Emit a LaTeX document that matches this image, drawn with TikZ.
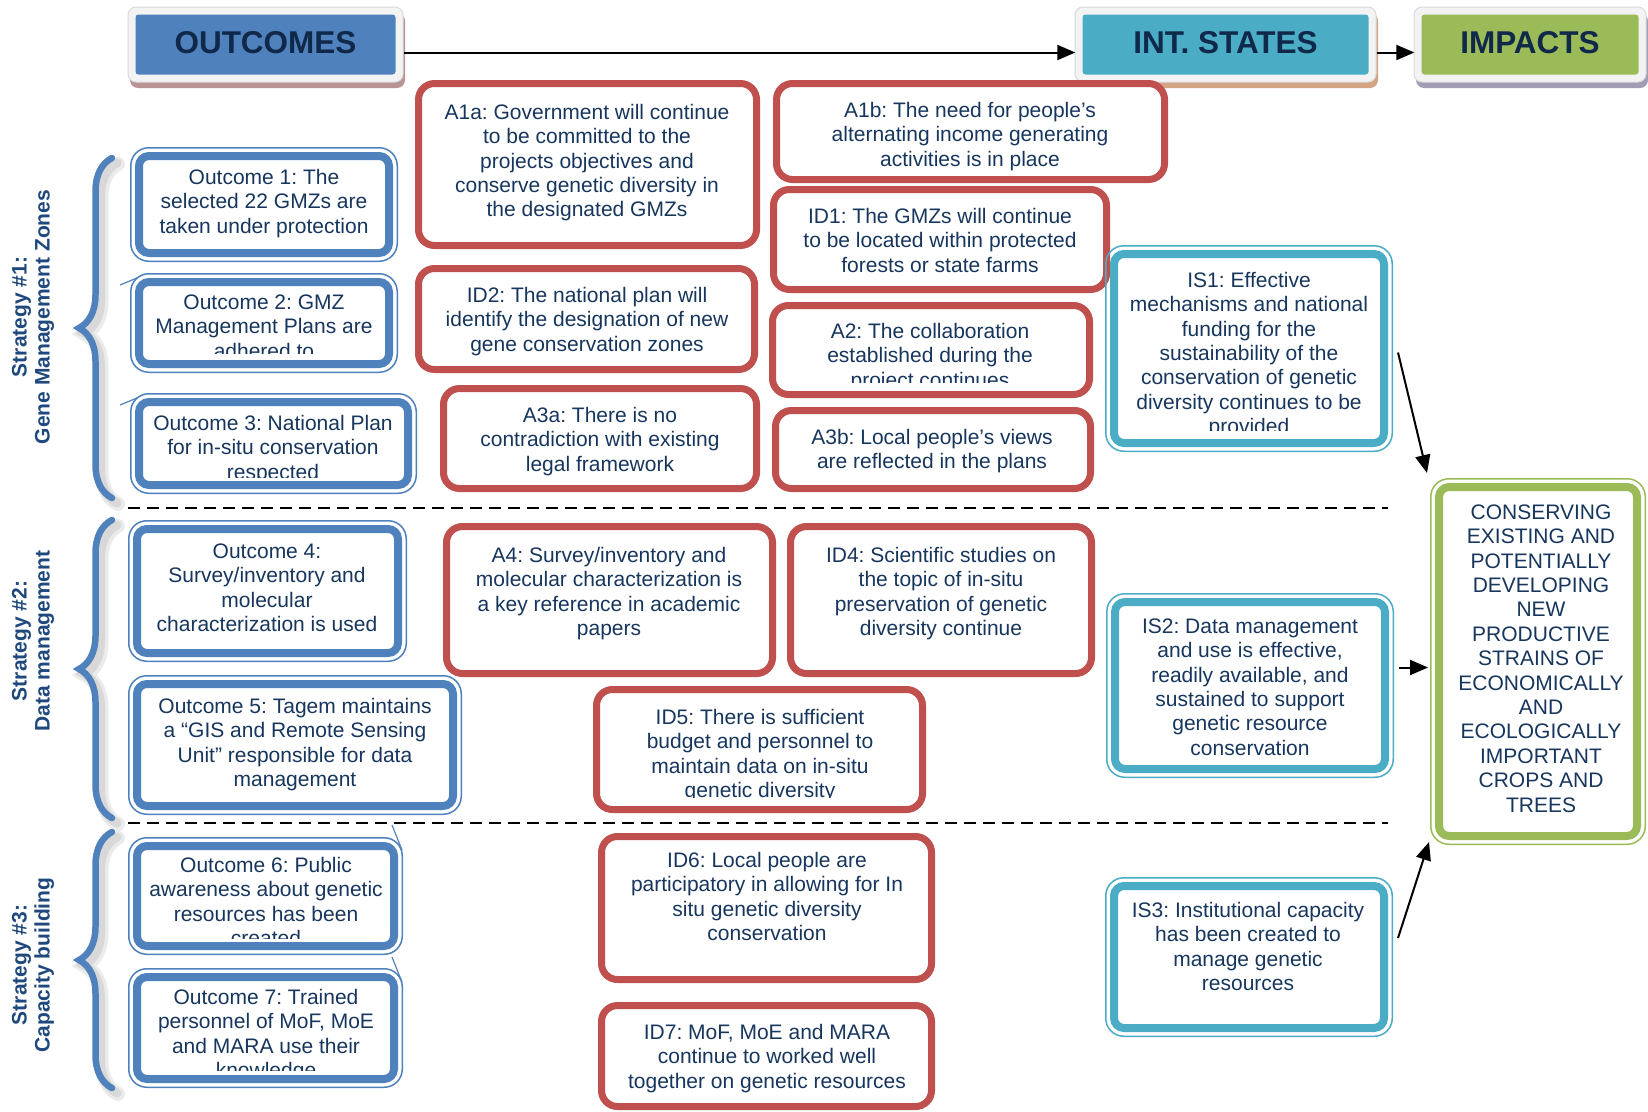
\documentclass[tikz,border=0pt]{standalone}
\usepackage{fontspec}
\setmainfont{Liberation Sans}
\usetikzlibrary{arrows.meta,decorations.pathreplacing}

\definecolor{obl}{HTML}{4F81BD}
\definecolor{ocy}{HTML}{4BACC6}
\definecolor{ogr}{HTML}{9BBB59}
\definecolor{ord}{HTML}{C0504D}
\definecolor{txtc}{HTML}{17365D}
\definecolor{hdrtxt}{HTML}{10284A}
\definecolor{stratc}{HTML}{1F497D}
\definecolor{shO}{HTML}{B99494}
\definecolor{shI}{HTML}{D3A584}
\definecolor{shP}{HTML}{A39DB3}
\definecolor{hdrframe}{HTML}{F3F3F3}
\definecolor{hdredge}{HTML}{DADADA}

\newcommand{\topstrut}{\rule{0pt}{17pt}}

% header block: name, frame x1, y1, x2, y2, fill, shadow, text
\newcommand{\headbox}[8]{%
  \fill[#7, rounded corners=8pt] (#2+2,#3+6) rectangle (#4+2,#5+6);
  \filldraw[fill=hdrframe, draw=hdredge, line width=1pt, rounded corners=8pt] (#2,#3) rectangle (#4,#5);
  \pgfmathsetmacro\boxw{#4-#2-15}%
  \pgfmathsetmacro\boxh{#5-#3-15}%
  \node[hdr=#6, minimum width=\boxw pt, minimum height=\boxh pt] (#1) at ({(#2+#4)/2},{(#3+#5)/2}) {#8};
}

% red box: name, outer edge x1, y1, x2, y2
\newcommand{\redbox}[5]{%
  \pgfmathsetmacro\boxw{#4-#2-7}%
  \pgfmathsetmacro\boxh{#5-#3-7}%
  \node[redframe, minimum width=\boxw pt, minimum height=\boxh pt] (#1) at ({(#2+#4)/2},{(#3+#5)/2}) {};
}

% double-framed box: name, colour, outer edge x1, y1, x2, y2
\newcommand{\dblbox}[6]{%
  \draw[rim=#2] (#3+0.75,#4+0.75) rectangle (#5-0.75,#6-0.75);
  \pgfmathsetmacro\boxw{#5-#3-18}%
  \pgfmathsetmacro\boxh{#6-#4-18}%
  \node[band=#2, minimum width=\boxw pt, minimum height=\boxh pt] (#1) at ({(#3+#5)/2},{(#4+#6)/2}) {};
}

% box text clipped to the text area: name, clip x1, y1, x2, y2, centre x, first line y, lines
\newcommand{\boxtext}[8]{%
  \begin{scope}
    \clip (#2,#3) rectangle (#4,#5);
    \node[txt, anchor=north] (#1) at (#6,#7-10) {\topstrut #8};
  \end{scope}
}

\begin{document}
\frenchspacing
\begin{tikzpicture}[x=1pt, y=-1pt,
  txt/.style={align=center, inner sep=0pt, text=txtc, font=\fontsize{21}{24.4}\selectfont},
  redframe/.style={draw=ord, line width=7pt, fill=white, rounded corners=16pt, inner sep=0pt},
  band/.style={draw=#1, line width=8pt, fill=white, rounded corners=10pt, inner sep=0pt},
  rim/.style={draw=#1, line width=1.5pt, rounded corners=18pt},
  hdr/.style={fill=#1, rounded corners=3pt, inner sep=0pt, text=hdrtxt,
    font=\fontsize{31.5}{36}\selectfont\bfseries, text depth=4pt},
  strat/.style={align=center, inner sep=0pt, text=stratc, rotate=90,
    font=\fontsize{21}{23}\selectfont\bfseries},
  bracedraw/.style={draw=obl, line width=6.5pt, line cap=round, decorate,
    decoration={brace, amplitude=33pt}},
  braceshade/.style={draw=black, opacity=0.08, line width=#1, line cap=round, decorate,
    decoration={brace, amplitude=33pt}},
  divider/.style={line width=2pt, dash pattern=on 12pt off 7pt},
  conn/.style={line width=2pt, -{Triangle[length=18pt, width=15pt]}},
  tail/.style={draw=obl, line width=1.2pt}
]
\useasboundingbox (0,0) rectangle (1648,1111);
\fill[white] (0,0) rectangle (1648,1111);

% column headers
\headbox{hout}{128}{7}{403}{82}{obl}{shO}{OUTCOMES}
\headbox{hint}{1075}{7}{1376}{82}{ocy}{shI}{INT. STATES}
\headbox{himp}{1414}{7}{1646}{82}{ogr}{shP}{IMPACTS}

% strategy labels
\node[strat] (s1) at (33,317) {Strategy \#1:\\Gene Management Zones};
\node[strat] (s2) at (33,641) {Strategy \#2:\\Data management};
\node[strat] (s3) at (33,965) {Strategy \#3:\\Capacity building};

% braces with a soft shadow
\foreach \ya/\yb in {498/158, 818/520, 1088/832} {
  \draw[braceshade=14pt, shift={(6,6)}] (112,\ya) -- (112,\yb);
  \draw[braceshade=9pt, shift={(5,5)}] (112,\ya) -- (112,\yb);
  \draw[bracedraw] (112,\ya) -- (112,\yb);
}

% strategy separators
\draw[divider] (128,508) -- (1388,508);
\draw[divider] (128,823) -- (1388,823);

% outcomes
\draw[tail] (120,285) -- (137,278);
\draw[tail] (120,405) -- (137,398);
\draw[tail] (392,825) -- (402,850);
\draw[tail] (392,957) -- (402,982);
\dblbox{o1}{obl}{130}{147}{398}{262}
\boxtext{o1t}{143}{160}{385}{249}{264}{177}{Outcome 1: The\\selected 22 GMZs are\\taken under protection}
\dblbox{o2}{obl}{130}{273}{398}{373}
\boxtext{o2t}{143}{286}{385}{353}{264}{302}{Outcome 2: GMZ\\Management Plans are\\adhered to}
\dblbox{o3}{obl}{130}{393}{417}{494}
\boxtext{o3t}{143}{406}{404}{477}{273}{423}{Outcome 3: National Plan\\for in-situ conservation\\respected}
\dblbox{o4}{obl}{128}{520}{407}{662}
\boxtext{o4t}{141}{533}{394}{649}{267}{551}{Outcome 4:\\Survey/inventory and\\molecular\\characterization is used}
\dblbox{o5}{obl}{128}{675}{462}{815}
\boxtext{o5t}{141}{688}{449}{802}{295}{706}{Outcome 5: Tagem maintains\\a “GIS and Remote Sensing\\Unit” responsible for data\\management}
\dblbox{o6}{obl}{128}{837}{403}{955}
\boxtext{o6t}{141}{850}{390}{938}{266}{865}{Outcome 6: Public\\awareness about genetic\\resources has been\\created}
\dblbox{o7}{obl}{128}{968}{403}{1088}
\boxtext{o7t}{141}{981}{390}{1070}{266}{997}{Outcome 7: Trained\\personnel of MoF, MoE\\and MARA use their\\knowledge}

% assumptions and drivers
\redbox{a1a}{415}{80}{760}{249}
\boxtext{a1at}{422}{87}{753}{242}{587}{112}{A1a: Government will continue\\to be committed to the\\projects objectives and\\conserve genetic diversity in\\the designated GMZs}
\redbox{a1b}{773}{80}{1168}{183}
\boxtext{a1bt}{780}{87}{1161}{176}{970}{110}{A1b: The need for people’s\\alternating income generating\\activities is in place}
\redbox{id1}{770}{186}{1110}{293}
\boxtext{id1t}{777}{193}{1103}{286}{940}{216}{ID1: The GMZs will continue\\to be located within protected\\forests or state farms}
\redbox{id2}{415}{265}{758}{373}
\boxtext{id2t}{422}{272}{751}{366}{587}{295}{ID2: The national plan will\\identify the designation of new\\gene conservation zones}
\redbox{a2}{769}{302}{1093}{398}
\boxtext{a2t}{776}{309}{1086}{382}{930}{331}{A2: The collaboration\\established during the\\project continues}
\redbox{a3a}{440}{385}{760}{492}
\boxtext{a3at}{447}{392}{753}{485}{600}{415}{A3a: There is no\\contradiction with existing\\legal framework}
\redbox{a3b}{772}{407}{1094}{492}
\boxtext{a3bt}{779}{414}{1087}{485}{932}{437}{A3b: Local people’s views\\are reflected in the plans}
\redbox{a4}{443}{523}{776}{677}
\boxtext{a4t}{450}{530}{769}{670}{609}{555}{A4: Survey/inventory and\\molecular characterization is\\a key reference in academic\\papers}
\redbox{id4}{787}{523}{1095}{677}
\boxtext{id4t}{794}{530}{1088}{670}{941}{555}{ID4: Scientific studies on\\the topic of in-situ\\preservation of genetic\\diversity continue}
\redbox{id5}{593}{686}{926}{813}
\boxtext{id5t}{600}{693}{919}{797}{760}{717}{ID5: There is sufficient\\budget and personnel to\\maintain data on in-situ\\genetic diversity}
\redbox{id6}{598}{833}{935}{983}
\boxtext{id6t}{605}{840}{928}{976}{767}{860}{ID6: Local people are\\participatory in allowing for In\\situ genetic diversity\\conservation}
\redbox{id7}{598}{1002}{935}{1110}
\boxtext{id7t}{605}{1009}{928}{1103}{767}{1032}{ID7: MoF, MoE and MARA\\continue to worked well\\together on genetic resources}

% intermediate states
\dblbox{is1}{ocy}{1105}{245}{1393}{452}
\boxtext{is1t}{1118}{258}{1380}{430}{1249}{280}{IS1: Effective\\mechanisms and national\\funding for the\\sustainability of the\\conservation of genetic\\diversity continues to be\\provided}
\dblbox{is2}{ocy}{1106}{593}{1394}{778}
\boxtext{is2t}{1119}{606}{1381}{765}{1250}{626}{IS2: Data management\\and use is effective,\\readily available, and\\sustained to support\\genetic resource\\conservation}
\dblbox{is3}{ocy}{1105}{877}{1393}{1037}
\boxtext{is3t}{1118}{890}{1380}{1024}{1248}{910}{IS3: Institutional capacity\\has been created to\\manage genetic\\resources}

% impact
\dblbox{goal}{ogr}{1430}{478}{1646}{845}
\boxtext{goalt}{1443}{491}{1633}{832}{1541}{512}{CONSERVING\\EXISTING AND\\POTENTIALLY\\DEVELOPING\\NEW\\PRODUCTIVE\\STRAINS OF\\ECONOMICALLY\\AND\\ECOLOGICALLY\\IMPORTANT\\CROPS AND\\TREES}

% connectors
\draw[conn] ([shift={(8,8)}]hout.east) -- ([shift={(-7,8)}]hint.west);
\draw[conn] ([shift={(8,8)}]hint.east) -- ([shift={(-7,8)}]himp.west);
\draw[conn] ([shift={(10,4)}]is1.east) -- ([shift={(-8,-10)}]goal.north west);
\draw[conn] ([shift={(10,-18)}]is2.east) -- ([shift={(-7,6)}]goal.west);
\draw[conn] ([shift={(10,-19)}]is3.east) -- ([shift={(-6,2)}]goal.south west);
\end{tikzpicture}
\end{document}
